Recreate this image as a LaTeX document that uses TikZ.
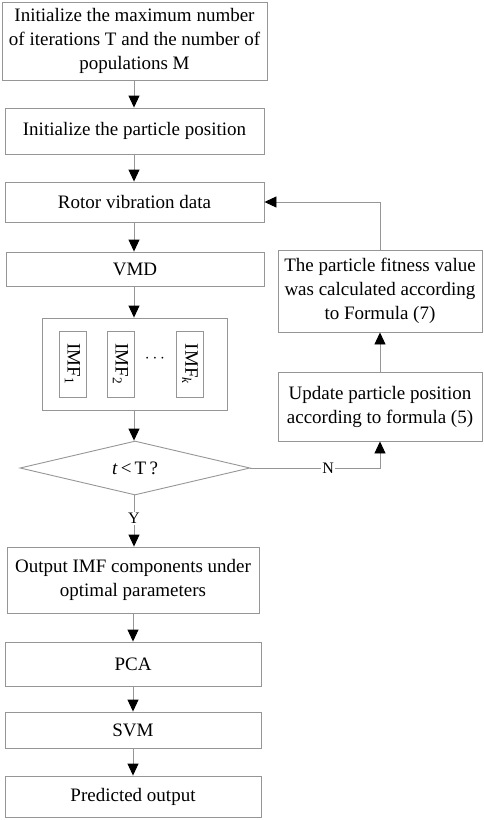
\documentclass[tikz,border=0pt]{standalone}
\usepackage{fontspec}
\setmainfont{Liberation Serif}
\usetikzlibrary{arrows.meta,shapes.geometric}
\definecolor{edge}{RGB}{150,150,150}
\begin{document}
\begin{tikzpicture}[x=1pt,y=-1pt,
  box/.style={draw=edge,line width=0.9pt,rectangle,inner sep=0pt,align=center,font=\fontsize{19}{24}\selectfont},
  imf/.style={draw=edge,line width=0.9pt,rectangle,inner sep=0pt,minimum width=27pt,minimum height=66pt},
  imftext/.style={rotate=-90,font=\fontsize{19}{24}\selectfont},
  conn/.style={draw=edge,line width=0.9pt,-{Triangle[length=12pt,width=11pt,fill=black,color=black]}},
  lbl/.style={font=\fontsize{16}{18}\selectfont,fill=white,inner sep=1pt}]
\useasboundingbox (0,0) rectangle (484,820);
\node[box,minimum width=265pt,minimum height=78pt] (init) at (134.5,41) {Initialize the maximum number\\of iterations T and the number of\\populations M};
\node[box,minimum width=259pt,minimum height=46pt] (pos) at (134.5,131) {Initialize the particle position};
\node[box,minimum width=259pt,minimum height=40pt] (rotor) at (134.5,202) {Rotor vibration data};
\node[box,minimum width=258pt,minimum height=34pt] (vmd) at (135,269) {VMD};
\node[box,minimum width=185pt,minimum height=92pt] (cont) at (134.5,364) {};
\node[imf] (i1) at (72.5,364) {};
\node[imf] (i2) at (120.5,364) {};
\node[imf] (ik) at (190,364) {};
\node[imftext] (t1) at (i1) {IMF\textsubscript{1}};
\node[imftext] (t2) at (i2) {IMF\textsubscript{2}};
\node[imftext] (tk) at (ik) {IMF\textsubscript{\textit{k}}};
\node[font=\fontsize{19}{24}\selectfont] (dots) at (155,359) {$\cdots$};
\node[draw=edge,line width=0.9pt,diamond,aspect=4.26,inner sep=0pt,minimum width=230pt,minimum height=54pt,font=\fontsize{19}{24}\selectfont] (dec) at (135,468) {\textit{t}\,<\,T\,?};
\node[box,minimum width=252pt,minimum height=66pt] (out) at (133,580) {Output IMF components under\\optimal parameters};
\node[box,minimum width=256pt,minimum height=44pt] (pca) at (133,664) {PCA};
\node[box,minimum width=256pt,minimum height=36pt] (svm) at (133,730) {SVM};
\node[box,minimum width=256pt,minimum height=41pt] (pred) at (133,796.5) {Predicted output};
\node[box,minimum width=204pt,minimum height=82pt] (fit) at (380,291) {The particle fitness value\\was calculated according\\to Formula (7)};
\node[box,minimum width=204pt,minimum height=69pt] (upd) at (380,406.5) {Update particle position\\according to formula (5)};
\draw[conn] (init.south -| 134,0) -- (pos.north -| 134,0);
\draw[conn] (pos.south -| 134,0) -- (rotor.north -| 134,0);
\draw[conn] (rotor.south -| 134,0) -- (vmd.north -| 134,0);
\draw[conn] (vmd.south -| 134,0) -- (cont.north -| 134,0);
\draw[conn] (cont.south -| 134,0) -- (dec.north -| 134,0);
\draw[conn] (dec.south -| 134,0) -- node[lbl,pos=0.45] {Y} (out.north -| 134,0);
\draw[conn] (out.south -| 133,0) -- (pca.north -| 133,0);
\draw[conn] (pca.south -| 133,0) -- (svm.north -| 133,0);
\draw[conn] (svm.south -| 133,0) -- (pred.north -| 133,0);
\draw[conn] (dec.east) -- node[lbl,pos=0.6] {N} (dec.east -| upd.south) -- (upd.south);
\draw[conn] (upd.north) -- (fit.south);
\draw[conn] (fit.north) |- (rotor.east);
\end{tikzpicture}
\end{document}
